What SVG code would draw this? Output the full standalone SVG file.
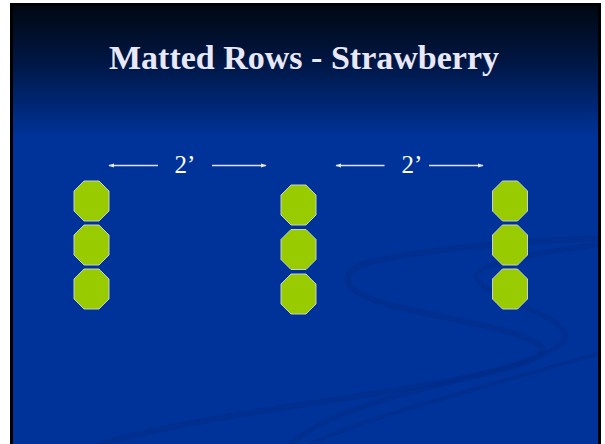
<svg xmlns="http://www.w3.org/2000/svg" width="605" height="444" viewBox="0 0 605 444">
  <defs>
    <linearGradient id="bg" x1="0" y1="0" x2="0" y2="1" gradientUnits="objectBoundingBox">
      <stop offset="0" stop-color="#000812"/>
      <stop offset="0.12" stop-color="#001540"/>
      <stop offset="0.30" stop-color="#003399"/>
      <stop offset="1" stop-color="#003399"/>
    </linearGradient>
    <clipPath id="slide">
      <rect x="13" y="6" width="585" height="438"/>
    </clipPath>
    <marker id="ah" viewBox="0 0 10 10" refX="9" refY="5" markerWidth="6" markerHeight="6" markerUnits="userSpaceOnUse" orient="auto-start-reverse">
      <path d="M0,1.5 L10,5 L0,8.5 Z" fill="#e8e8f0"/>
    </marker>
    <polygon id="oct" points="10,0 25,0 35,10 35,30 25,40 10,40 0,30 0,10"/>
  </defs>
  <style>
    .title { font-family: "Liberation Serif", "Times New Roman", serif; font-weight: bold; font-size: 34px; fill: #e8e8fa; }
    .lbl { font-family: "Liberation Serif", "Times New Roman", serif; font-size: 25px; fill: #ffffff; }
    .plant use { fill: #99cc00; stroke: #c8d0c8; stroke-width: 1; }
    .dim { stroke: #e0e0ea; stroke-width: 1.5; fill: none; }
    .swirl { fill: none; stroke: #002b85; stroke-opacity: 0.45; stroke-linecap: round; }
  </style>
  <rect x="0" y="0" width="605" height="444" fill="#ffffff"/>
  <rect x="10" y="3" width="591" height="441" fill="#000000"/>
  <rect x="13" y="6" width="585" height="438" fill="url(#bg)"/>

  <g id="swirls" clip-path="url(#slide)">
    <path class="swirl" stroke-width="6" d="M610,238 C520,240 420,250 370,262 C335,272 340,292 390,305 C450,320 520,330 540,345 C560,362 470,380 300,405 C220,417 150,430 100,444"/>
    <path class="swirl" stroke-width="5" d="M610,243 C540,252 480,262 476,276 C472,292 560,312 565,335 C570,352 500,370 420,390 C360,405 320,420 290,444"/>
    <path class="swirl" stroke-width="4" d="M610,350 C540,370 470,390 420,405 C370,420 330,435 310,444"/>
  </g>

  <g id="title">
    <text class="title" x="304" y="69" text-anchor="middle">Matted Rows - Strawberry</text>
  </g>

  <g id="row-left" class="plant">
    <use href="#oct" x="74" y="181"/>
    <use href="#oct" x="74" y="225"/>
    <use href="#oct" x="74" y="269"/>
  </g>
  <g id="row-middle" class="plant">
    <use href="#oct" x="281" y="185"/>
    <use href="#oct" x="281" y="229.5"/>
    <use href="#oct" x="281" y="274"/>
  </g>
  <g id="row-right" class="plant">
    <use href="#oct" x="492.5" y="181"/>
    <use href="#oct" x="492.5" y="225"/>
    <use href="#oct" x="492.5" y="269"/>
  </g>

  <g id="connectors">
    <line class="dim" x1="158" y1="165.5" x2="109" y2="165.5" marker-end="url(#ah)"/>
    <line class="dim" x1="212" y1="165.5" x2="266" y2="165.5" marker-end="url(#ah)"/>
    <line class="dim" x1="384.5" y1="165.5" x2="336" y2="165.5" marker-end="url(#ah)"/>
    <line class="dim" x1="429" y1="165.5" x2="483" y2="165.5" marker-end="url(#ah)"/>
  </g>

  <g id="labels">
    <text class="lbl" x="185" y="173" text-anchor="middle">2’</text>
    <text class="lbl" x="412" y="173" text-anchor="middle">2’</text>
  </g>
</svg>
